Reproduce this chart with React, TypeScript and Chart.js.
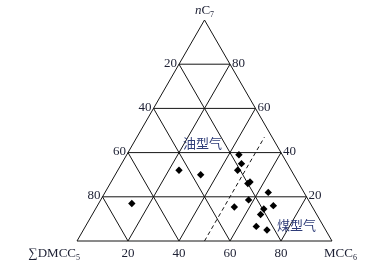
import React, { useEffect, useRef } from 'react';
import { Chart, registerables } from 'chart.js';

Chart.register(...registerables);

// Ternary axes: MCC6 (bottom-right vertex), nC7 (top vertex), ΣDMCC5 (bottom-left vertex)
const gridTicks = [20, 40, 60, 80];
const baseTickLabels = ['20', '40', '60', '80']; // MCC6
const leftTickLabels = ['80', '60', '40', '20']; // ΣDMCC5 at nC7 = 20,40,60,80
const rightTickLabels = ['20', '40', '60', '80']; // nC7

// Samples (percent)
const sampleMcc6 = [44, 47, 47, 54.5, 54, 64, 58, 54, 66, 69, 66, 67, 72, 33.5, 24, 13];
const sampleNc7 = [39, 35, 32, 26.7, 26, 22, 18.6, 15.4, 14.5, 16, 12, 6.6, 5, 30, 32, 17];

// Boundary (dashed) between oil-type and coal-type gas
const boundaryMcc6 = [50, 50];
const boundaryNc7 = [0, 47];

const oilLabel = '油型气';
const coalLabel = '煤型气';
const oilLabelPos = { mcc6: 27, nc7: 44.4 };
const coalLabelPos = { mcc6: 82.5, nc7: 7.2 };

const H = Math.sqrt(3) / 2;
const toXY = (m: number, c: number) => ({ x: m / 100 + c / 200, y: (c / 100) * H });

type Seg = { t: string; italic?: boolean; sub?: boolean };

function drawSegs(ctx: CanvasRenderingContext2D, segs: Seg[], x: number, y: number, align: 'left' | 'right' | 'center', size: number, color: string) {
  const fam = '"Liberation Serif", "DejaVu Serif", serif';
  const fontOf = (s: Seg) => `${s.italic ? 'italic ' : ''}${s.sub ? Math.round(size * 0.62) : size}px ${fam}`;
  let total = 0;
  const widths = segs.map((s) => {
    ctx.font = fontOf(s);
    const w = ctx.measureText(s.t).width;
    total += w;
    return w;
  });
  let cx = align === 'left' ? x : align === 'right' ? x - total : x - total / 2;
  ctx.fillStyle = color;
  ctx.textAlign = 'left';
  ctx.textBaseline = 'middle';
  segs.forEach((s, i) => {
    ctx.font = fontOf(s);
    ctx.fillText(s.t, cx, s.sub ? y + size * 0.28 : y);
    cx += widths[i];
  });
}

export default function App() {
  const ref = useRef<HTMLCanvasElement>(null);

  useEffect(() => {
    if (!ref.current) return;
    const lineColor = '#151515';
    const lines: { x: number; y: number }[][] = [];
    // outline
    lines.push([toXY(0, 0), toXY(100, 0), toXY(0, 100), toXY(0, 0)]);
    gridTicks.forEach((k) => {
      lines.push([toXY(0, k), toXY(100 - k, k)]); // const nC7
      lines.push([toXY(k, 0), toXY(k, 100 - k)]); // const MCC6
      lines.push([toXY(100 - k, 0), toXY(0, 100 - k)]); // const DMCC5
    });

    const datasets: any[] = lines.map((pts) => ({
      type: 'scatter',
      data: pts,
      showLine: true,
      borderColor: lineColor,
      borderWidth: 1,
      pointRadius: 0,
      clip: false,
      order: 2,
    }));

    datasets.push({
      type: 'scatter',
      data: boundaryMcc6.map((m, i) => toXY(m, boundaryNc7[i])),
      showLine: true,
      borderColor: lineColor,
      borderWidth: 1,
      borderDash: [4, 3],
      pointRadius: 0,
      clip: false,
      order: 2,
    });

    datasets.push({
      type: 'scatter',
      data: sampleMcc6.map((m, i) => toXY(m, sampleNc7[i])),
      pointStyle: 'rectRot',
      pointRadius: 3.7,
      backgroundColor: '#000',
      borderColor: '#000',
      borderWidth: 0,
      clip: false,
      order: 1,
    });

    const labelPlugin = {
      id: 'ternaryLabels',
      afterDraw(chart: any) {
        const ctx = chart.ctx as CanvasRenderingContext2D;
        const sx = chart.scales.x;
        const sy = chart.scales.y;
        const px = (m: number, c: number) => {
          const p = toXY(m, c);
          return { x: sx.getPixelForValue(p.x), y: sy.getPixelForValue(p.y) };
        };
        ctx.save();
        const tc = '#1c1f33';
        gridTicks.forEach((k, i) => {
          const b = px(k, 0);
          drawSegs(ctx, [{ t: baseTickLabels[i] }], b.x, b.y + 13, 'center', 13, tc);
          const l = px(0, k);
          drawSegs(ctx, [{ t: leftTickLabels[i] }], l.x - 2, l.y - 1, 'right', 13, tc);
          const r = px(100 - k, k);
          drawSegs(ctx, [{ t: rightTickLabels[i] }], r.x + 2, r.y - 1, 'left', 13, tc);
        });
        const top = px(0, 100);
        drawSegs(ctx, [{ t: 'n', italic: true }, { t: 'C' }, { t: '7', sub: true }], top.x, top.y - 9, 'center', 13, tc);
        const lv = px(0, 0);
        drawSegs(ctx, [{ t: '∑' }, { t: 'DMCC' }, { t: '5', sub: true }], lv.x + 3, lv.y + 13, 'right', 13, tc);
        const rv = px(100, 0);
        drawSegs(ctx, [{ t: 'MCC' }, { t: '6', sub: true }], rv.x - 8, rv.y + 13, 'left', 13, tc);

        ctx.font = '13px "Noto Sans CJK SC", sans-serif';
        ctx.fillStyle = '#2e3c78';
        ctx.textAlign = 'center';
        ctx.textBaseline = 'middle';
        const o = px(oilLabelPos.mcc6, oilLabelPos.nc7);
        ctx.fillText(oilLabel, o.x, o.y);
        const c = px(coalLabelPos.mcc6, coalLabelPos.nc7);
        ctx.fillText(coalLabel, c.x, c.y);
        ctx.restore();
      },
    };

    const chart = new Chart(ref.current, {
      type: 'scatter',
      data: { datasets },
      options: {
        animation: false,
        responsive: false,
        events: [],
        layout: { padding: { left: 77, right: 39, top: 20, bottom: 29 } },
        plugins: { legend: { display: false }, tooltip: { enabled: false }, title: { display: false } },
        scales: {
          x: { type: 'linear', min: 0, max: 1, display: false },
          y: { type: 'linear', min: 0, max: H, display: false },
        },
      },
      plugins: [labelPlugin],
    });
    return () => chart.destroy();
  }, []);

  return (
    <div style={{ position: 'absolute', left: 0, top: 0, width: 371, height: 270, background: '#fff' }}>
      <canvas ref={ref} width={371} height={270} style={{ display: 'block', width: 371, height: 270 }} />
    </div>
  );
}
